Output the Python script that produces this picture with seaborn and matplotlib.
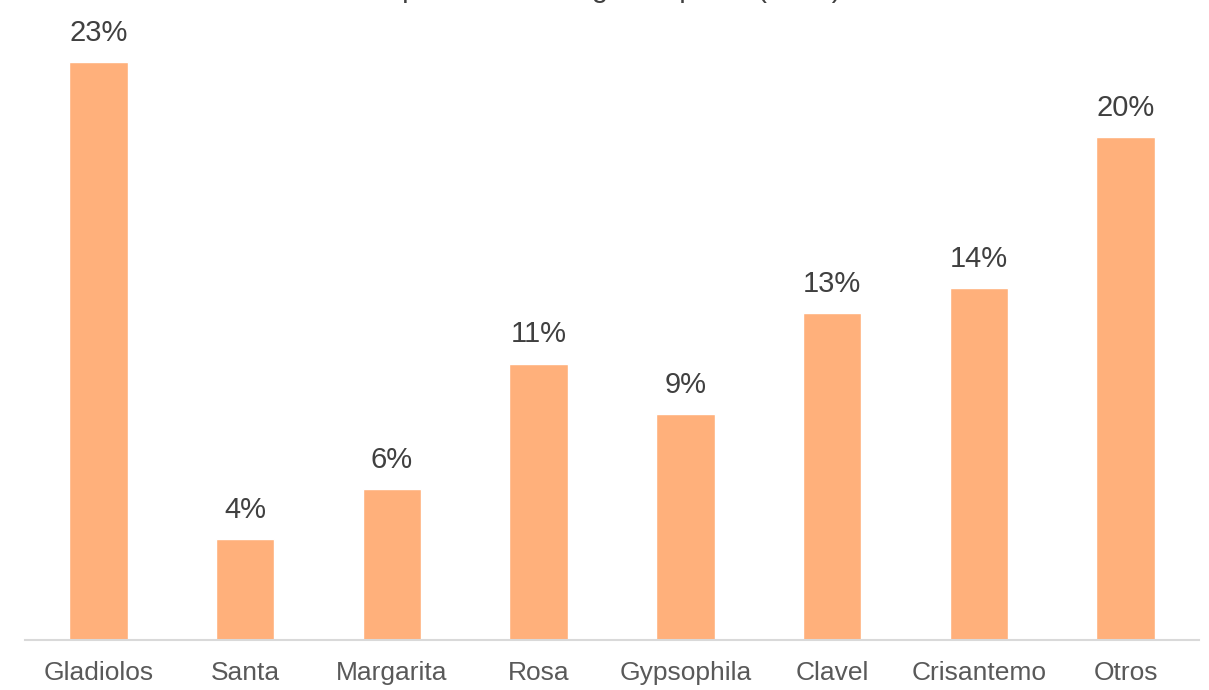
import matplotlib
matplotlib.use("Agg")
import matplotlib.pyplot as plt
import seaborn as sns
import pandas as pd

categories = ["Gladiolos", "Santa", "Margarita", "Rosa", "Gypsophila",
              "Clavel", "Crisantemo", "Otros"]
values = [23, 4, 6, 11, 9, 13, 14, 20]
title = "Exportaciones según especie (2019)"

sns.set_style("white")
plt.rcParams["font.family"] = ["Liberation Sans", "DejaVu Sans"]

df = pd.DataFrame({"flor": categories, "pct": values})

fig = plt.figure(figsize=(12.09, 6.9), dpi=100)
ax = fig.add_axes([25 / 1209, 50 / 690, 1174 / 1209, 625 / 690])

sns.barplot(data=df, x="flor", y="pct", color="#FFB07B", saturation=1,
            width=0.4, ax=ax)
ax.bar_label(ax.containers[0], labels=[f"{v}%" for v in values],
             padding=11, fontsize=21, color="#404040")

ax.set_ylim(0, 24.87)
ax.set_xlim(-0.5, len(categories) - 0.5)
ax.set_xlabel("")
ax.set_ylabel("")
ax.set_yticks([])
ax.tick_params(axis="x", length=0, labelsize=19, labelcolor="#595959", pad=15)
for side in ["top", "right", "left"]:
    ax.spines[side].set_visible(False)
ax.spines["bottom"].set_color("#d9d9d9")
ax.spines["bottom"].set_linewidth(1.5)

# title sits mostly above the visible area in the reference
fig.text(0.5, 1.0 + 3 / 690, title, ha="center", va="baseline",
         fontsize=21, color="#404040")

fig.savefig("out.png", dpi=100)
